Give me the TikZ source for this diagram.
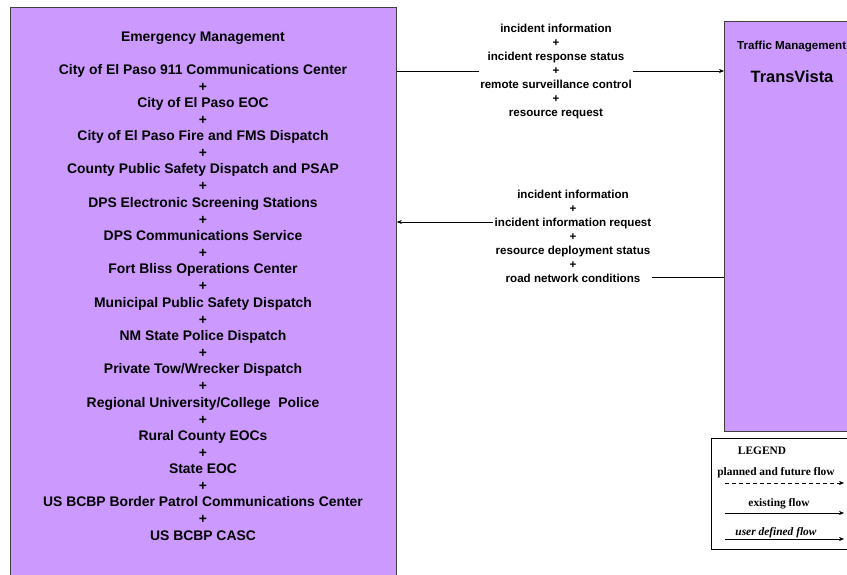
\documentclass[tikz,border=0pt]{standalone}
\usepackage{fontspec}
\setmainfont{Liberation Sans}
\newfontfamily\legfont{Liberation Serif}
\usetikzlibrary{arrows.meta}
\definecolor{boxfill}{HTML}{CC99FF}
\definecolor{boxline}{HTML}{404040}
\tikzset{
  x=1pt, y=-1pt,
  sysbox/.style={draw=boxline, line width=0.8pt, fill=boxfill, anchor=north west, inner sep=0pt},
  mainline/.style={font=\fontsize{13.9}{13.9}\selectfont\bfseries, inner sep=0pt, anchor=base},
  flowtxt/.style={font=\fontsize{11.6}{14}\selectfont\bfseries, align=center, inner sep=1pt},
  flow/.style={draw=black, line width=0.6pt},
  arr/.style={-{Stealth[length=5pt,width=4pt]}},
  legtxt/.style={font=\legfont\fontsize{11.4}{11.4}\selectfont\bfseries, inner sep=0pt, anchor=base},
}
\begin{document}
\begin{tikzpicture}
\useasboundingbox (0,0) rectangle (847,574);
\fill[white] (0,0) rectangle (847,574);
% boxes
\node[sysbox, minimum width=386pt, minimum height=590pt] (em) at (10,7) {};
\node[sysbox, minimum width=150pt, minimum height=410pt] (tm) at (724,21) {};
\node[draw=black, line width=0.8pt, fill=white, anchor=north west, inner sep=0pt, minimum width=150pt, minimum height=111pt] (leg) at (711,438) {};
% left box text
\node[mainline] (emt) at (203,41) {Emergency Management};
\foreach \t [count=\i from 0] in {City of El Paso 911 Communications Center,City of El Paso EOC,City of El Paso Fire and FMS Dispatch,County Public Safety Dispatch and PSAP,DPS Electronic Screening Stations,DPS Communications Service,Fort Bliss Operations Center,Municipal Public Safety Dispatch,NM State Police Dispatch,Private Tow/Wrecker Dispatch,Regional University/College~ Police,Rural County EOCs,State EOC,US BCBP Border Patrol Communications Center,US BCBP CASC}{
  \node[mainline] (e\i) at (203,{74+33.3*\i}) {\t};
}
\foreach \i in {0,...,13}{
  \node[mainline] (p\i) at (203,{91+33.3*\i}) {+};
}
% right box text
\node[font=\fontsize{11.6}{11.6}\selectfont\bfseries, anchor=base west, inner sep=0pt] (tmt) at (737,49) {Traffic Management};
\node[font=\fontsize{16.4}{16.4}\selectfont\bfseries, anchor=base, inner sep=0pt] (tv) at (792,82) {TransVista};
% flow 1
\node[flowtxt] (f1) at (556,71) {incident information\\+\\incident response status\\+\\remote surveillance control\\+\\resource request};
\coordinate (f1y) at (556,71);
\draw[flow] (em.east |- f1y) -- (f1.west |- f1y);
\draw[flow, arr] (f1.east |- f1y) -- (tm.west |- f1y);
% flow 2
\node[flowtxt] (f2) at (573,236) {incident information\\+\\incident information request\\+\\resource deployment status\\+\\road network conditions};
\coordinate (f2a) at (573,222);
\coordinate (f2b) at (573,277);
\coordinate (f2bl) at (652,277);
\draw[flow] (tm.west |- f2b) -- (f2bl);
\draw[flow, arr] (f2.west |- f2a) -- (em.east |- f2a);
% legend
\node[legtxt] (lg) at (762,454) {LEGEND};
\node[legtxt] (lp) at (776,475) {planned and future flow};
\coordinate (lp1) at (725,483); \coordinate (lp2) at (844,483);
\draw[flow, dashed, dash pattern=on 4pt off 3pt, arr] (lp1) -- (lp2);
\node[legtxt] (le) at (779,506) {existing flow};
\coordinate (le1) at (725,513); \coordinate (le2) at (844,513);
\draw[flow, arr] (le1) -- (le2);
\node[legtxt, font=\legfont\fontsize{11.4}{11.4}\selectfont\bfseries\itshape] (lu) at (776,535) {user defined flow};
\coordinate (lu1) at (725,539); \coordinate (lu2) at (844,539);
\draw[flow, arr] (lu1) -- (lu2);
\end{tikzpicture}
\end{document}
